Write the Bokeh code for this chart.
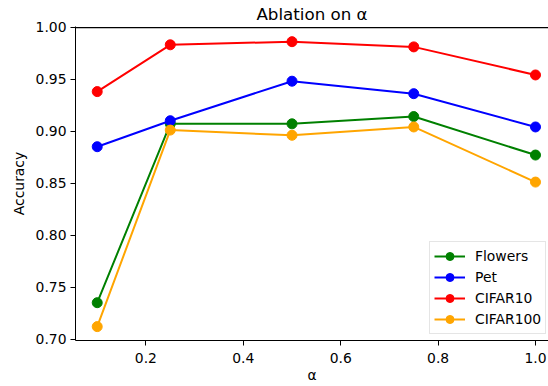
from bokeh.plotting import figure
from bokeh.models import (Range1d, FixedTicker, NumeralTickFormatter, Legend, LegendItem,
                          LinearAxis, Span)
from bokeh.embed import file_html
from bokeh.resources import INLINE

alpha = [0.1, 0.25, 0.5, 0.75, 1.0]
flowers = [0.735, 0.907, 0.907, 0.914, 0.877]
pet = [0.885, 0.910, 0.948, 0.936, 0.904]
cifar10 = [0.938, 0.983, 0.986, 0.981, 0.954]
cifar100 = [0.712, 0.901, 0.896, 0.904, 0.851]
series_names = ["Flowers", "Pet", "CIFAR10", "CIFAR100"]
series_colors = ["green", "blue", "red", "orange"]
x_ticks = [0.2, 0.4, 0.6, 0.8, 1.0]
y_ticks = [0.70, 0.75, 0.80, 0.85, 0.90, 0.95, 1.00]
title_text = "Ablation on α"

FONT = "DejaVu Sans"
TICK = "13.9px"
Y0, Y1 = 0.69865, 1.0006

p = figure(width=548, height=386, output_backend="svg", toolbar_location=None,
           x_range=Range1d(0.0554, 1.0267), y_range=Range1d(Y0, Y1),
           min_border_left=75, min_border_right=0, min_border_top=26, min_border_bottom=46)
p.outline_line_color = None
p.xgrid.visible = False
p.ygrid.visible = False
p.background_fill_color = "white"
p.border_fill_color = "white"

for ax in (p.xaxis[0], p.yaxis[0]):
    ax.major_tick_in = 0
    ax.major_tick_out = 5
    ax.minor_tick_line_color = None
    ax.major_label_text_font = FONT
    ax.major_label_text_font_size = TICK
    ax.major_label_text_color = "black"
    ax.axis_label_text_font = FONT
    ax.axis_label_text_font_size = TICK
    ax.axis_label_text_font_style = "normal"
    ax.axis_label_text_color = "black"
    ax.axis_line_color = "black"
    ax.major_tick_line_color = "black"
    ax.major_label_standoff = 4

p.xaxis[0].ticker = FixedTicker(ticks=x_ticks)
p.xaxis[0].formatter = NumeralTickFormatter(format="0.0")
p.xaxis[0].axis_label = "α"
p.xaxis[0].major_label_standoff = 7
p.xaxis[0].axis_label_standoff = 1
p.yaxis[0].ticker = FixedTicker(ticks=y_ticks)
p.yaxis[0].formatter = NumeralTickFormatter(format="0.00")
p.yaxis[0].axis_label = "Accuracy"
p.yaxis[0].axis_label_standoff = 6

# top axis carrying the chart title as its label
top = LinearAxis(ticker=FixedTicker(ticks=x_ticks), major_tick_in=0, major_tick_out=0,
                 major_tick_line_color=None, minor_tick_line_color=None,
                 major_label_text_font_size="1px", major_label_text_alpha=0,
                 major_label_standoff=0, axis_line_color=None,
                 axis_label=title_text, axis_label_standoff=3,
                 axis_label_text_font=FONT, axis_label_text_font_size="16.7px",
                 axis_label_text_font_style="normal", axis_label_text_color="black")
p.add_layout(top, "above")

# top spine
p.add_layout(Span(location=Y1 - 1.2 / 1040, dimension="width", line_color="black",
                  line_width=1.2, level="overlay"))

items = []
for name, vals, col in zip(series_names, [flowers, pet, cifar10, cifar100], series_colors):
    l = p.line(alpha, vals, line_color=col, line_width=2)
    s = p.scatter(alpha, vals, size=10, fill_color=col, line_color=col)
    items.append(LegendItem(label=name, renderers=[l, s]))

legend = Legend(items=items, location=(354, 6))
legend.label_text_font = FONT
legend.label_text_font_size = TICK
legend.label_text_color = "black"
legend.glyph_width = 31
legend.glyph_height = 20
legend.label_height = 20
legend.label_standoff = 10
legend.spacing = 1
legend.padding = 4
legend.margin = 0
legend.border_line_color = "#cccccc"
legend.border_line_width = 1
legend.background_fill_alpha = 0.8
p.add_layout(legend, "center")

open("out.html", "w").write(file_html(p, INLINE))
